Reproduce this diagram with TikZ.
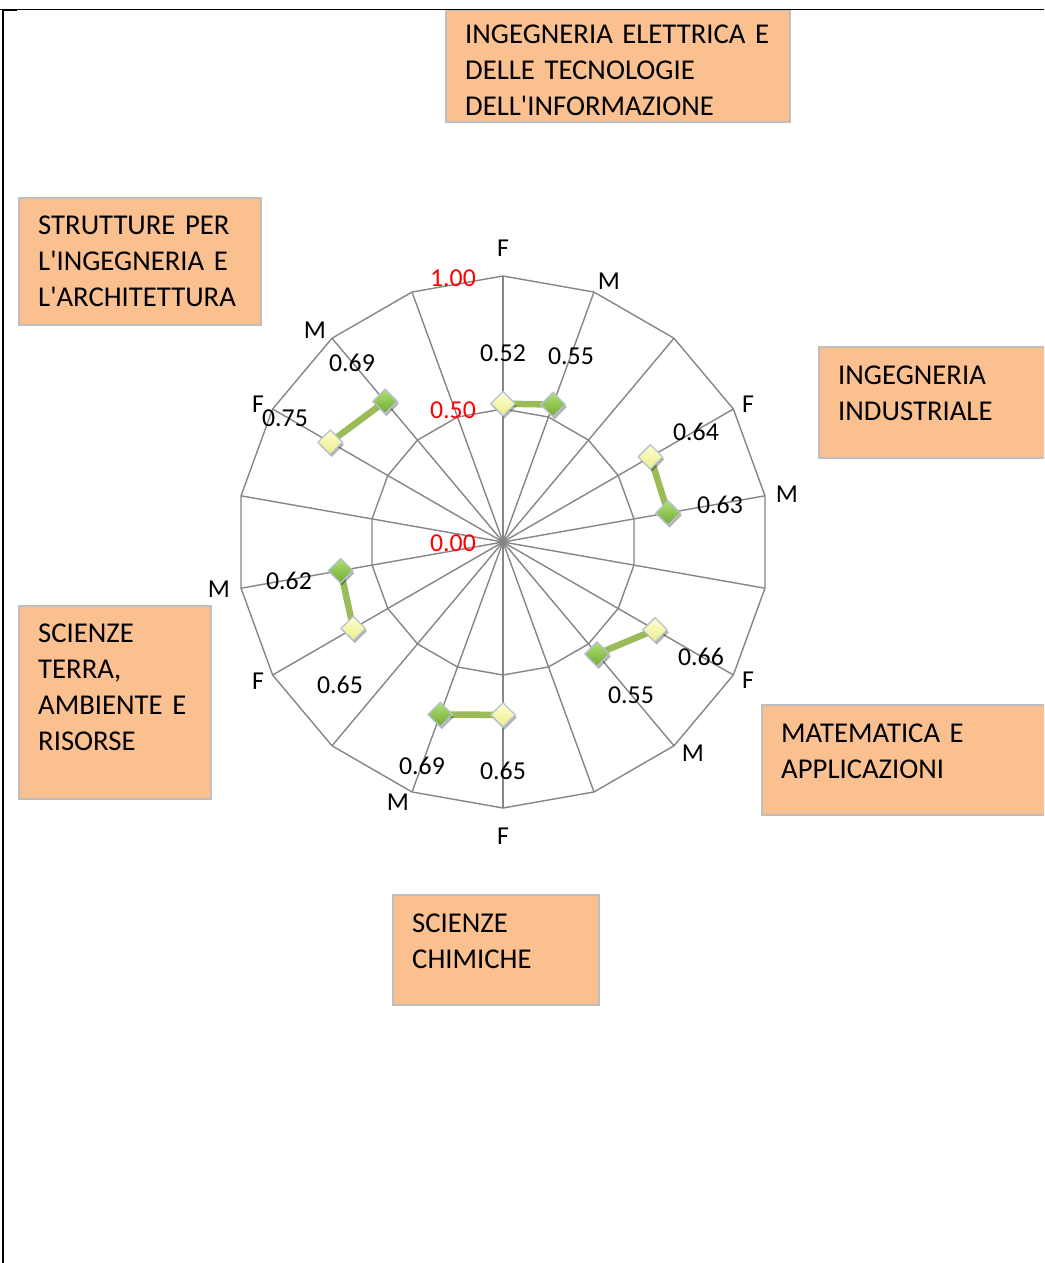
\documentclass[tikz,border=0pt]{standalone}
\usepackage{fontspec}
\setmainfont{Carlito}
\usetikzlibrary{shapes.geometric,calc,shadows}
\pgfdeclarelayer{gridlayer}
\pgfdeclarelayer{linelayer}
\pgfsetlayers{gridlayer,linelayer,main}
\definecolor{boxfill}{HTML}{FAC090}
\definecolor{boxline}{HTML}{BFBFBF}
\definecolor{gridc}{HTML}{868686}
\definecolor{serline}{HTML}{9BBB59}
\definecolor{mkline}{HTML}{B4C2D6}
\definecolor{ftop}{HTML}{FFFFD2}
\definecolor{fbot}{HTML}{ECEC8A}
\definecolor{mtop}{HTML}{AEE070}
\definecolor{mbot}{HTML}{74AA36}
\newcommand{\apos}{\textquotesingle}
\tikzset{
  gridline/.style={draw=gridc, line width=1.4pt},
  series/.style={draw=serline, line width=6.5pt},
  mk/.style={diamond, aspect=1, minimum size=25pt, inner sep=0pt, draw=mkline, line width=1.3pt,
    drop shadow={shadow xshift=1.5pt, shadow yshift=-2.5pt, opacity=.3, fill=black}},
  fmark/.style={mk, top color=ftop, bottom color=fbot},
  mmark/.style={mk, top color=mtop, bottom color=mbot},
  catlab/.style={font=\fontsize{25.8}{30}\selectfont, inner sep=0pt},
  axlab/.style={catlab, text=red},
  obox/.style={draw=boxline, fill=boxfill, line width=1.5pt, anchor=north west, inner sep=0pt},
  otext/.style={font=\fontsize{28.7}{36}\selectfont, anchor=base west, align=left, inner sep=0pt, text width=330pt},
  frameline/.style={draw=black}
}
\begin{document}
\begin{tikzpicture}[x=1pt,y=-1pt]
\useasboundingbox (0,0) rectangle (1044,1263);
\clip (0,0) rectangle (1044,1263);
% frame
\draw[frameline, line width=1.3pt] (0,9.2) -- (1044,9.2);
\draw[frameline, line width=2.3pt] (3.2,10) -- (3.2,1263);
\draw[frameline, line width=1.3pt] (3,10.6) -- (17,10.6);
% chart grid
\coordinate (C) at (503,542);
\begin{pgfonlayer}{gridlayer}
\fill[white] (0,0) rectangle (1044,1263);
\foreach \rr in {133,266} {
  \draw[gridline] ($(C)+(-90:\rr)$) \foreach \a in {-70,-50,...,250} { -- ($(C)+(\a:\rr)$) } -- cycle;
}
\foreach \a in {-90,-70,...,250} { \draw[gridline] (C) -- ($(C)+(\a:266)$); }
\end{pgfonlayer}
% axis labels
\node[axlab] (ax1) at (453,278) {1.00};
\node[axlab] (ax2) at (453,410) {0.50};
\node[axlab] (ax3) at (453,543) {0.00};
% category labels
\node[catlab] (c0) at (503,248) {F};
\node[catlab] (c1) at (609,281) {M};
\node[catlab] (c3) at (748,404) {F};
\node[catlab] (c4) at (787,494) {M};
\node[catlab] (c6) at (748,680) {F};
\node[catlab] (c7) at (693,753) {M};
\node[catlab] (c9) at (503,836) {F};
\node[catlab] (c10) at (398,802) {M};
\node[catlab] (c12) at (258,681) {F};
\node[catlab] (c13) at (219,589) {M};
\node[catlab] (c15) at (258,404) {F};
\node[catlab] (c16) at (315,330) {M};
% markers
\node[fmark] (f0) at ($(C)+(-90:0.52*266)$) {};
\node[mmark] (m0) at ($(C)+(-70:0.55*266)$) {};
\node[fmark] (f1) at ($(C)+(-30:0.64*266)$) {};
\node[mmark] (m1) at ($(C)+(-10:0.63*266)$) {};
\node[fmark] (f2) at ($(C)+(30:0.66*266)$) {};
\node[mmark] (m2) at ($(C)+(50:0.55*266)$) {};
\node[fmark] (f3) at ($(C)+(90:0.65*266)$) {};
\node[mmark] (m3) at ($(C)+(110:0.69*266)$) {};
\node[fmark] (f4) at ($(C)+(150:0.65*266)$) {};
\node[mmark] (m4) at ($(C)+(170:0.62*266)$) {};
\node[fmark] (f5) at ($(C)+(210:0.75*266)$) {};
\node[mmark] (m5) at ($(C)+(230:0.69*266)$) {};
\begin{pgfonlayer}{linelayer}
\foreach \k in {0,...,5} { \draw[series] (f\k.center) -- (m\k.center); }
\end{pgfonlayer}
% value labels
\node[catlab] (v0) at (503,353) {0.52};
\node[catlab] (v1) at (571,356) {0.55};
\node[catlab] (v3) at (696,432) {0.64};
\node[catlab] (v4) at (720,505) {0.63};
\node[catlab] (v6) at (701,657) {0.66};
\node[catlab] (v7) at (631,695) {0.55};
\node[catlab] (v9) at (503,771) {0.65};
\node[catlab] (v10) at (422,766) {0.69};
\node[catlab] (v12) at (340,685) {0.65};
\node[catlab] (v13) at (289,581) {0.62};
\node[catlab] (v15) at (285,418) {0.75};
\node[catlab] (v16) at (352,363) {0.69};
% boxes
\node[obox, minimum width=344pt, minimum height=111pt] (b1) at (445,10) {};
\node[otext] (t1) at (465,44) {INGEGNERIA ELETTRICA E\\DELLE TECNOLOGIE\\DELL\apos INFORMAZIONE};
\node[obox, minimum width=242pt, minimum height=127pt] (b2) at (18,197) {};
\node[otext] (t2) at (38,234) {STRUTTURE PER\\L\apos INGEGNERIA E\\L\apos ARCHITETTURA};
\node[obox, minimum width=240pt, minimum height=111pt] (b3) at (818,346) {};
\node[otext] (t3) at (838,384) {INGEGNERIA\\INDUSTRIALE};
\node[obox, minimum width=192pt, minimum height=193pt] (b4) at (18,605) {};
\node[otext] (t4) at (38,642) {SCIENZE\\TERRA,\\AMBIENTE E\\RISORSE};
\node[obox, minimum width=297pt, minimum height=110pt] (b5) at (761,704) {};
\node[otext] (t5) at (781,742) {MATEMATICA E\\APPLICAZIONI};
\node[obox, minimum width=206pt, minimum height=110pt] (b6) at (392,894) {};
\node[otext] (t6) at (412,932) {SCIENZE\\CHIMICHE};
\end{tikzpicture}
\end{document}
